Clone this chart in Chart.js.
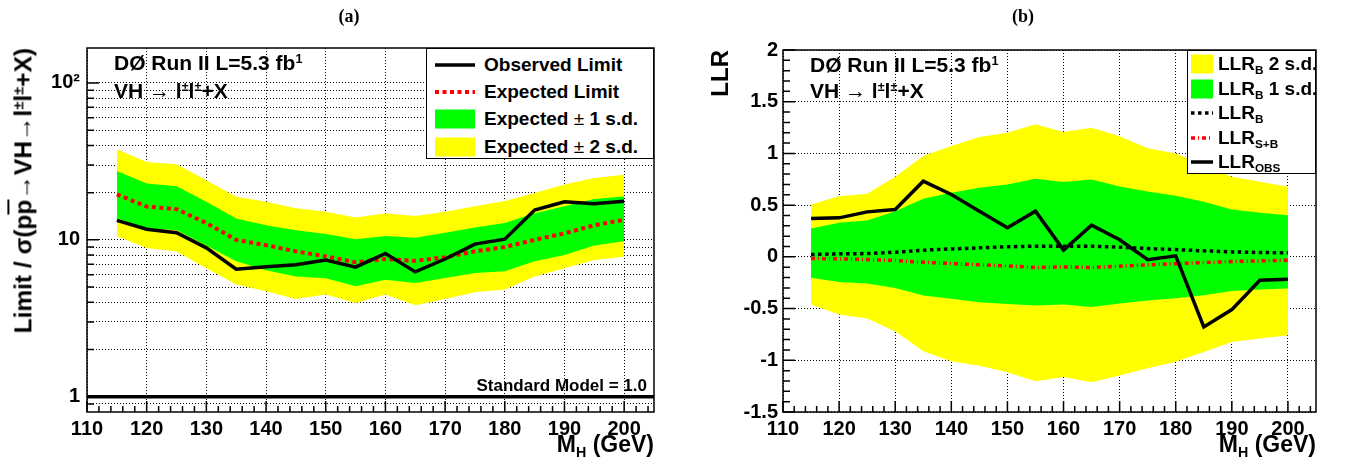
<!DOCTYPE html>
<html>
<head>
<meta charset="utf-8">
<script src="https://cdn.jsdelivr.net/npm/chart.js@4.4.0/dist/chart.umd.min.js"></script>
<style>
  body { margin:0; width:1353px; height:466px; background:#fff; position:relative; overflow:hidden;
         font-family:"Liberation Sans", Arial, sans-serif; font-weight:bold; color:#000; }
  .pane { position:absolute; top:0; height:466px; }
  .t { position:absolute; white-space:nowrap; line-height:1; z-index:3; }
  .sup { font-size:0.6em; position:relative; top:-0.55em; }
  .sub { font-size:0.62em; position:relative; top:0.35em; }
  .yanchor { position:absolute; width:0; height:0; z-index:3; }
  .ytitle { position:absolute; right:0; top:0; white-space:nowrap; line-height:27px; height:27px;
            font-size:24.5px; transform-origin:100% 0; transform:rotate(-90deg); }
  .legend { position:absolute; background:#fff; border:1px solid #000; z-index:2; box-sizing:border-box; }
  .row { position:absolute; left:0; display:flex; align-items:center; white-space:nowrap; }
  .row svg { flex:none; }
  .pm { font-weight:normal; }
</style>
</head>
<body>

<div class="pane" style="left:0;width:660px"><canvas id="limitChart"></canvas></div>
<div class="pane" style="left:700px;width:622px"><canvas id="llrChart"></canvas></div>

<!-- panel labels -->
<div class="t" style="left:299px;width:100px;text-align:center;top:7px;font-family:'Liberation Serif',serif;font-size:18px">(a)</div>
<div class="t" style="left:973px;width:100px;text-align:center;top:7px;font-family:'Liberation Serif',serif;font-size:18px">(b)</div>

<!-- left panel texts -->
<div class="t" style="left:114px;top:52px;font-size:21px">DØ Run II L=5.3 fb<span class="sup">1</span></div>
<div class="t" style="left:114px;top:80px;font-size:21px">VH <span class="pm">→</span> l<span class="sup">±</span>l<span class="sup">±</span>+X</div>
<div class="t" style="left:447px;width:200px;text-align:right;top:377px;font-size:17px">Standard Model = 1.0</div>
<div class="yanchor" style="left:9px;top:48px"><div class="ytitle">Limit / σ(p<span style="text-decoration:overline">p</span>→VH→l<span class="sup">±</span>l<span class="sup">±</span>+X)</div></div>
<div class="t" style="left:454px;width:200px;text-align:right;top:433px;font-size:23px">M<span class="sub">H</span> (GeV)</div>

<div class="legend" style="left:426px;top:48px;width:228px;height:111px">
  <div class="row" style="top:3px;height:25px;left:8px">
    <svg width="40" height="24"><line x1="0" y1="12" x2="40" y2="12" stroke="#000" stroke-width="3.5"/></svg>
    <span style="margin-left:9px;font-size:19px">Observed Limit</span></div>
  <div class="row" style="top:30px;height:25px;left:8px">
    <svg width="40" height="24"><line x1="0" y1="12" x2="40" y2="12" stroke="#f00" stroke-width="4" stroke-dasharray="4 3.5"/></svg>
    <span style="margin-left:9px;font-size:19px">Expected Limit</span></div>
  <div class="row" style="top:57px;height:25px;left:8px">
    <svg width="40" height="24"><rect x="0" y="2.5" width="40" height="19" fill="#0f0"/></svg>
    <span style="margin-left:9px;font-size:19px">Expected <span class="pm">±</span> 1 s.d.</span></div>
  <div class="row" style="top:85px;height:25px;left:8px">
    <svg width="40" height="24"><rect x="0" y="2.5" width="40" height="19" fill="#ff0"/></svg>
    <span style="margin-left:9px;font-size:19px">Expected <span class="pm">±</span> 2 s.d.</span></div>
</div>

<!-- right panel texts -->
<div class="t" style="left:810px;top:54px;font-size:21px">DØ Run II L=5.3 fb<span class="sup">1</span></div>
<div class="t" style="left:810px;top:80px;font-size:21px">VH <span class="pm">→</span> l<span class="sup">±</span>l<span class="sup">±</span>+X</div>
<div class="yanchor" style="left:706px;top:50px"><div class="ytitle" style="font-size:24px">LLR</div></div>
<div class="t" style="left:1116px;width:200px;text-align:right;top:433px;font-size:23px">M<span class="sub">H</span> (GeV)</div>

<div class="legend" style="left:1187px;top:50px;width:129px;height:124px">
  <div class="row" style="top:1px;height:24px;left:3px">
    <svg width="22" height="24"><rect x="0" y="2.5" width="22" height="19" fill="#ff0"/></svg>
    <span style="margin-left:5px;font-size:19px">LLR<span class="sub">B</span> 2 s.d.</span></div>
  <div class="row" style="top:26px;height:24px;left:3px">
    <svg width="22" height="24"><rect x="0" y="2.5" width="22" height="19" fill="#0f0"/></svg>
    <span style="margin-left:5px;font-size:19px">LLR<span class="sub">B</span> 1 s.d.</span></div>
  <div class="row" style="top:50px;height:24px;left:3px">
    <svg width="22" height="24"><line x1="0" y1="12" x2="22" y2="12" stroke="#000" stroke-width="3.5" stroke-dasharray="3.5 3.5"/></svg>
    <span style="margin-left:5px;font-size:19px">LLR<span class="sub">B</span></span></div>
  <div class="row" style="top:75px;height:24px;left:3px">
    <svg width="22" height="24"><line x1="0" y1="12" x2="22" y2="12" stroke="#f00" stroke-width="3.5" stroke-dasharray="4 3 1 3"/></svg>
    <span style="margin-left:5px;font-size:19px">LLR<span class="sub">S+B</span></span></div>
  <div class="row" style="top:99px;height:24px;left:3px">
    <svg width="22" height="24"><line x1="0" y1="12" x2="22" y2="12" stroke="#000" stroke-width="3.5"/></svg>
    <span style="margin-left:5px;font-size:19px">LLR<span class="sub">OBS</span></span></div>
</div>

<script>
// Higgs mass points (GeV)
var massPoints = [115, 120, 125, 130, 135, 140, 145, 150, 155, 160, 165, 170, 175, 180, 185, 190, 195, 200];

// (a) limit / SM cross section
var limObs = [13.3, 11.7, 11.1, 8.9, 6.5, 6.75, 6.95, 7.45, 6.7, 8.2, 6.25, 7.55, 9.4, 10.1, 15.5, 17.5, 17.0, 17.6];
var limExp = [19.5, 16.3, 15.7, 12.8, 10.0, 9.25, 8.45, 7.85, 7.2, 7.55, 7.35, 7.75, 8.45, 9.0, 10.0, 11.0, 12.4, 13.4];
var limUp1 = [27.5, 22.9, 22.0, 17.5, 13.7, 12.4, 11.5, 10.9, 10.1, 10.6, 10.3, 11.1, 12.0, 12.8, 14.8, 16.4, 18.2, 18.9];
var limDn1 = [13.7, 11.9, 11.5, 9.2, 7.3, 6.4, 5.85, 5.7, 5.06, 5.57, 5.31, 5.71, 6.15, 6.3, 7.3, 8.0, 9.2, 9.8];
var limUp2 = [37.8, 31.4, 30.3, 24.0, 18.8, 17.5, 15.9, 15.1, 13.9, 14.8, 14.2, 15.1, 16.4, 17.7, 19.9, 22.5, 24.8, 26.0];
var limDn2 = [10.6, 8.86, 8.44, 6.6, 5.19, 4.7, 4.2, 4.48, 3.96, 4.48, 3.83, 4.2, 4.64, 4.82, 5.85, 6.6, 7.45, 7.8];
var smLimit = 1.0;

// (b) log-likelihood ratio
var llrObs = [0.371, 0.377, 0.435, 0.458, 0.732, 0.603, 0.442, 0.281, 0.442, 0.065, 0.306, 0.165, -0.028, 0.01, -0.677, -0.51, -0.226, -0.216];
var llrB   = [0.023, 0.029, 0.032, 0.045, 0.065, 0.077, 0.087, 0.097, 0.103, 0.103, 0.103, 0.094, 0.08, 0.07, 0.058, 0.048, 0.042, 0.039];
var llrSB  = [-0.016, -0.019, -0.026, -0.035, -0.052, -0.065, -0.077, -0.087, -0.103, -0.097, -0.103, -0.09, -0.077, -0.066, -0.055, -0.045, -0.039, -0.032];
var llrUp1 = [0.274, 0.329, 0.352, 0.442, 0.561, 0.619, 0.668, 0.7, 0.755, 0.723, 0.748, 0.68, 0.632, 0.59, 0.532, 0.458, 0.426, 0.403];
var llrDn1 = [-0.203, -0.242, -0.258, -0.3, -0.374, -0.406, -0.439, -0.455, -0.471, -0.461, -0.484, -0.452, -0.422, -0.4, -0.371, -0.329, -0.316, -0.306];
var llrUp2 = [0.506, 0.587, 0.61, 0.774, 0.974, 1.071, 1.158, 1.2, 1.281, 1.206, 1.248, 1.165, 1.05, 1.0, 0.887, 0.774, 0.726, 0.677];
var llrDn2 = [-0.461, -0.558, -0.597, -0.719, -0.913, -1.01, -1.052, -1.116, -1.203, -1.161, -1.213, -1.146, -1.078, -1.013, -0.919, -0.823, -0.79, -0.758];

// axis ticks
var massTicks = [110, 120, 130, 140, 150, 160, 170, 180, 190, 200];
var limitGrid = [0.9, 1, 2, 3, 4, 5, 6, 7, 8, 9, 10, 20, 30, 40, 50, 60, 70, 80, 90, 100];
var limitLabelValues = [1, 10, 100];
var limitLabels = ['1', '10', '10\u00b2'];
var llrTicks = [-1.5, -1, -0.5, 0, 0.5, 1, 1.5, 2];

var tickFont = { family: 'Liberation Sans', size: 20, weight: 'bold' };

function pts(ys) {
  return massPoints.map(function (m, i) { return { x: m, y: ys[i] }; });
}

function band(ys, color, order, fillIt) {
  return { data: pts(ys), borderWidth: 0, borderColor: 'transparent', backgroundColor: color,
           fill: fillIt ? '+1' : false, order: order, pointRadius: 0 };
}

// ROOT like frame with ticks inside the frame
function frameTicks(yMinor, yMajor) {
  return {
    id: 'frameTicks',
    afterDraw: function (chart) {
      var ctx = chart.ctx, a = chart.chartArea, x = chart.scales.x, y = chart.scales.y;
      ctx.save();
      ctx.strokeStyle = '#000';
      ctx.lineWidth = 1.5;
      ctx.beginPath();
      for (var v = 110; v <= 204; v += 2) {
        var px = x.getPixelForValue(v);
        var len = ((v - 110) % 10 === 0) ? 11 : 6;
        ctx.moveTo(px, a.bottom); ctx.lineTo(px, a.bottom - len);
      }
      yMinor.forEach(function (t) {
        var py = y.getPixelForValue(t);
        var major = yMajor.some(function (m) { return Math.abs(m - t) < 1e-6; });
        ctx.moveTo(a.left, py); ctx.lineTo(a.left + (major ? 12 : 7), py);
      });
      ctx.stroke();
      ctx.strokeRect(a.left, a.top, a.right - a.left, a.bottom - a.top);
      ctx.restore();
    }
  };
}

function xScale() {
  return {
    type: 'linear', min: 110, max: 205,
    afterBuildTicks: function (s) { s.ticks = massTicks.map(function (v) { return { value: v }; }); },
    afterFit: function (s) { s.height = 54; },
    grid: { color: '#000', lineWidth: 1, drawTicks: false },
    border: { display: false, dash: [1, 2] },
    ticks: { autoSkip: false, maxRotation: 0, padding: 5, color: '#000', font: tickFont,
             callback: function (v) { return String(v); } }
  };
}

var baseOpts = {
  animation: false, responsive: true, maintainAspectRatio: false,
  plugins: { legend: { display: false }, tooltip: { enabled: false } },
  elements: { point: { radius: 0 }, line: { tension: 0 } }
};

// (a)
new Chart(document.getElementById('limitChart'), {
  type: 'line',
  data: {
    datasets: [
      { data: pts(limObs), borderColor: '#000', borderWidth: 3.5, fill: false, order: 1 },
      { data: pts(limExp), borderColor: '#f00', borderWidth: 4, borderDash: [4, 3.5], fill: false, order: 2 },
      { data: [{ x: 110, y: smLimit }, { x: 205, y: smLimit }], borderColor: '#000', borderWidth: 3.5, fill: false, order: 0 },
      band(limUp1, '#00ff00', 4, true),
      band(limDn1, '#00ff00', 4, false),
      band(limUp2, '#ffff00', 5, true),
      band(limDn2, '#ffff00', 5, false)
    ]
  },
  options: Object.assign({}, baseOpts, {
    layout: { padding: { top: 48, right: 6, bottom: 0, left: 0 } },
    scales: {
      x: xScale(),
      y: {
        type: 'logarithmic', min: 0.8, max: 167,
        afterBuildTicks: function (s) { s.ticks = limitGrid.map(function (v) { return { value: v }; }); },
        afterFit: function (s) { s.width = 87; },
        grid: { color: '#000', lineWidth: 1, drawTicks: false },
        border: { display: false, dash: [1, 2] },
        ticks: { autoSkip: false, padding: 7, color: '#000', font: tickFont,
                 callback: function (v) {
                   var i = limitLabelValues.indexOf(v);
                   return i >= 0 ? limitLabels[i] : '';
                 } }
      }
    }
  }),
  plugins: [frameTicks(limitGrid, limitLabelValues)]
});

// (b)
var llrMinor = [];
for (var k = -15; k <= 20; k++) llrMinor.push(k / 10);

new Chart(document.getElementById('llrChart'), {
  type: 'line',
  data: {
    datasets: [
      { data: pts(llrObs), borderColor: '#000', borderWidth: 3.5, fill: false, order: 1 },
      { data: pts(llrSB), borderColor: '#f00', borderWidth: 3.5, borderDash: [4, 3, 1, 3], fill: false, order: 2 },
      { data: pts(llrB), borderColor: '#000', borderWidth: 3.5, borderDash: [3.5, 3.5], fill: false, order: 2 },
      band(llrUp1, '#00ff00', 4, true),
      band(llrDn1, '#00ff00', 4, false),
      band(llrUp2, '#ffff00', 5, true),
      band(llrDn2, '#ffff00', 5, false)
    ]
  },
  options: Object.assign({}, baseOpts, {
    layout: { padding: { top: 50, right: 6, bottom: 0, left: 0 } },
    scales: {
      x: xScale(),
      y: {
        type: 'linear', min: -1.5, max: 2,
        afterBuildTicks: function (s) { s.ticks = llrTicks.map(function (v) { return { value: v }; }); },
        afterFit: function (s) { s.width = 83; },
        grid: { color: '#000', lineWidth: 1, drawTicks: false },
        border: { display: false, dash: [1, 2] },
        ticks: { autoSkip: false, padding: 5, color: '#000', font: tickFont,
                 callback: function (v) { return String(v); } }
      }
    }
  }),
  plugins: [frameTicks(llrMinor, llrTicks)]
});
</script>
</body>
</html>
